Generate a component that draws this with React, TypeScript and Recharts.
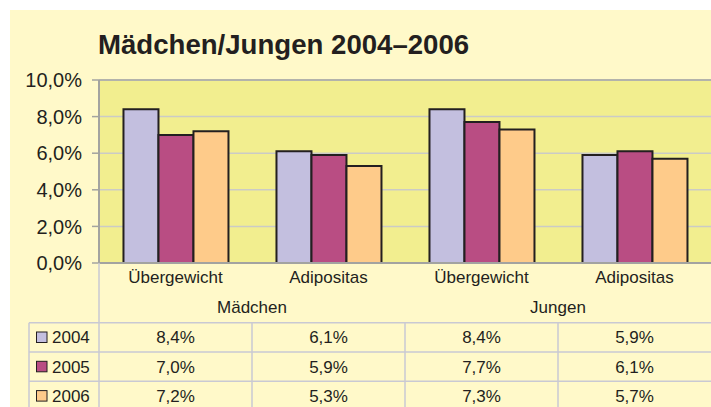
import React from 'react';
import { BarChart, Bar, XAxis, YAxis, CartesianGrid, Customized, ReferenceLine } from 'recharts';

const categories = ['Übergewicht', 'Adipositas', 'Übergewicht', 'Adipositas'];
const groups = ['Mädchen', 'Mädchen', 'Jungen', 'Jungen'];
const years = ['2004', '2005', '2006'];
const values2004 = [8.4, 6.1, 8.4, 5.9];
const values2005 = [7.0, 5.9, 7.7, 6.1];
const values2006 = [7.2, 5.3, 7.3, 5.7];
const yTicks = [0, 2, 4, 6, 8, 10];
const yMax = 10;
const title = 'Mädchen/Jungen 2004–2006';

const seriesKeys = ['y2004', 'y2005', 'y2006'];
const seriesColors = ['#C3BFDF', '#B94D83', '#FECB8A'];
const seriesValues = [values2004, values2005, values2006];

const data = categories.map((c, i) => ({
  idx: i,
  category: c,
  group: groups[i],
  y2004: values2004[i],
  y2005: values2005[i],
  y2006: values2006[i],
}));

const FONT = '"Liberation Sans", Arial, Helvetica, sans-serif';
const TEXT = '#231F20';
const BORDER = '#C9C9D3';

const fmt = (v: number) => v.toFixed(1).replace('.', ',') + '%';

const AxisTick = (props: any) => {
  const { x, y, index, width, visibleTicksCount } = props;
  const n = visibleTicksCount || categories.length;
  const band = width && n ? width / n : 153;
  const left = x - band / 2;
  const right = x + band / 2;
  const top = y;
  const tableTop = top + 59.7;
  const rowH = 29.3;
  const els: any[] = [];
  els.push(
    <text key="cat" x={x} y={top + 20} textAnchor="middle" fontSize={17} fill={TEXT} fontFamily={FONT}>
      {categories[index]}
    </text>
  );
  if (index === 0 || groups[index] !== groups[index - 1]) {
    els.push(
      <text key="grp" x={right} y={top + 49.5} textAnchor="middle" fontSize={17} fill={TEXT} fontFamily={FONT}>
        {groups[index]}
      </text>
    );
  }
  for (let r = 0; r < years.length; r++) {
    els.push(
      <text key={'v' + r} x={x} y={tableTop + 20.5 + r * rowH} textAnchor="middle" fontSize={17} fill={TEXT} fontFamily={FONT}>
        {fmt(seriesValues[r][index])}
      </text>
    );
  }
  for (let r = 0; r <= years.length; r++) {
    const ly = tableTop + r * rowH;
    els.push(<line key={'h' + r} x1={index === 0 ? left - 70 : left} x2={right} y1={ly} y2={ly} stroke={BORDER} strokeWidth={1.5} />);
  }
  if (index < n - 1) {
    els.push(<line key="vr" x1={right} x2={right} y1={tableTop} y2={tableTop + 3 * rowH + 5} stroke={BORDER} strokeWidth={1.5} />);
  }
  if (index === 0) {
    els.push(<line key="vl" x1={left} x2={left} y1={top} y2={tableTop + 3 * rowH + 5} stroke={BORDER} strokeWidth={1.5} />);
    els.push(<line key="vll" x1={left - 70} x2={left - 70} y1={tableTop} y2={tableTop + 3 * rowH + 5} stroke={BORDER} strokeWidth={1.5} />);
    for (let r = 0; r < years.length; r++) {
      const cy = tableTop + r * rowH;
      els.push(
        <rect key={'lg' + r} x={left - 62.5} y={cy + 9.3} width={10.5} height={10.5} fill={seriesColors[r]} stroke={TEXT} strokeWidth={1} />
      );
      els.push(
        <text key={'ly' + r} x={left - 47} y={cy + 20.5} fontSize={17} fill={TEXT} fontFamily={FONT}>
          {years[r]}
        </text>
      );
    }
  }
  return <g>{els}</g>;
};

const Title = () => (
  <text x={98} y={54} fontSize={27.6} fontWeight="bold" fill={TEXT} fontFamily={FONT}>
    {title}
  </text>
);

export default function App() {
  return (
    <div style={{ position: 'fixed', left: 0, top: 0, width: 711, height: 407, background: '#FFFFFF', overflow: 'hidden' }}>
      <style>{'html,body{margin:0;overflow:hidden}'}</style>
      <div style={{ position: 'absolute', left: 10, top: 10, width: 701, height: 397, background: '#FFF9C9' }} />
      <div style={{ position: 'absolute', left: 0, top: 0 }}>
        <BarChart
          width={711}
          height={407}
          data={data}
          margin={{ top: 80, right: 0, bottom: 0, left: 0 }}
          barCategoryGap="16%"
          barGap={0}
        >
          <CartesianGrid vertical={false} fill="#F2EE8F" stroke="#CBCBC6" strokeWidth={1.5} />
          <ReferenceLine y={yMax} stroke="#B3B3AB" strokeWidth={2} />
          <XAxis
            dataKey="idx"
            height={144}
            tickLine={false}
            tickSize={0}
            tickMargin={0}
            axisLine={{ stroke: '#A3A3A0', strokeWidth: 2 }}
            tick={<AxisTick />}
            interval={0}
          />
          <YAxis
            width={99}
            domain={[0, yMax]}
            ticks={yTicks}
            tickFormatter={fmt}
            axisLine={{ stroke: '#A3A3A0', strokeWidth: 2 }}
            tickLine={{ stroke: '#A3A3A0', strokeWidth: 1.5 }}
            tickSize={7}
            tickMargin={10}
            tick={{ fontSize: 20, fill: TEXT, fontFamily: FONT }}
            interval={0}
          />
          {seriesKeys.map((k, i) => (
            <Bar key={k} dataKey={k} fill={seriesColors[i]} stroke={TEXT} strokeWidth={2} isAnimationActive={false} />
          ))}
          <Customized component={Title} />
        </BarChart>
      </div>
    </div>
  );
}
